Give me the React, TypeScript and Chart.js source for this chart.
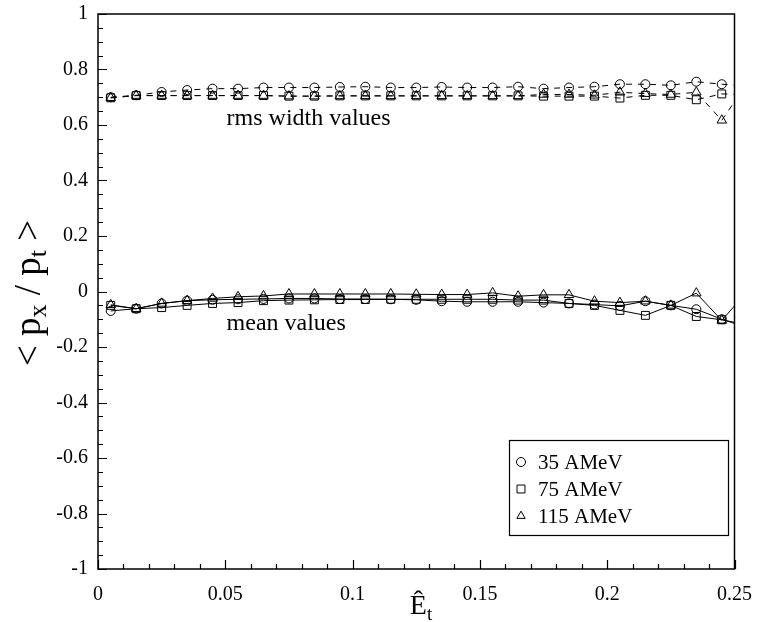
import React, { useEffect, useRef } from "react";
import { Chart, registerables } from "chart.js";

Chart.register(...registerables);

const xValues = [0.005, 0.015, 0.025, 0.035, 0.045, 0.055, 0.065, 0.075, 0.085, 0.095, 0.105, 0.115, 0.125, 0.135, 0.145, 0.155, 0.165, 0.175, 0.185, 0.195, 0.205, 0.215, 0.225, 0.235, 0.245, 0.255];

const rms35 = [0.700, 0.707, 0.719, 0.726, 0.731, 0.731, 0.735, 0.735, 0.735, 0.737, 0.738, 0.735, 0.735, 0.737, 0.735, 0.735, 0.738, 0.731, 0.735, 0.738, 0.747, 0.747, 0.743, 0.756, 0.747, 0.74];
const rms75 = [0.698, 0.706, 0.706, 0.706, 0.706, 0.706, 0.706, 0.704, 0.704, 0.705, 0.705, 0.705, 0.705, 0.705, 0.705, 0.705, 0.705, 0.704, 0.704, 0.704, 0.697, 0.707, 0.707, 0.691, 0.712, 0.71];
const rms115 = [0.698, 0.706, 0.706, 0.706, 0.706, 0.706, 0.706, 0.704, 0.704, 0.705, 0.705, 0.705, 0.705, 0.705, 0.705, 0.705, 0.705, 0.71, 0.71, 0.707, 0.718, 0.713, 0.71, 0.718, 0.617, 0.75];

const mean35 = [-0.07, -0.062, -0.043, -0.033, -0.03, -0.028, -0.027, -0.025, -0.025, -0.027, -0.027, -0.028, -0.03, -0.035, -0.037, -0.037, -0.037, -0.04, -0.043, -0.047, -0.052, -0.035, -0.05, -0.064, -0.1, -0.13];
const mean75 = [-0.05, -0.062, -0.058, -0.05, -0.043, -0.04, -0.033, -0.031, -0.03, -0.029, -0.029, -0.028, -0.028, -0.028, -0.028, -0.028, -0.031, -0.031, -0.043, -0.05, -0.068, -0.086, -0.05, -0.09, -0.102, -0.12];
const mean115 = [-0.048, -0.062, -0.043, -0.033, -0.025, -0.019, -0.016, -0.009, -0.009, -0.009, -0.009, -0.009, -0.01, -0.011, -0.011, -0.005, -0.017, -0.012, -0.012, -0.035, -0.04, -0.035, -0.05, -0.006, -0.104, 0.0];

const seriesLabels = ["35 AMeV", "75 AMeV", "115 AMeV"];
const pointStyles = ["circle", "rect", "triangle"];
const pointSizes = [4.5, 5.6, 5.5];

const xTickLabels = ["0", "0.05", "0.1", "0.15", "0.2", "0.25"];
const yTickLabels = ["-1", "-0.8", "-0.6", "-0.4", "-0.2", "0", "0.2", "0.4", "0.6", "0.8", "1"];

const annotations = [
  { text: "rms width values", x: 0.0505, y: 0.6 },
  { text: "mean values", x: 0.0505, y: -0.137 },
];

const SERIF = "'Liberation Serif', 'Times New Roman', serif";

function toPoints(ys: number[]) {
  return xValues.map((x, i) => ({ x, y: ys[i] }));
}

function drawMarker(ctx: CanvasRenderingContext2D, style: string, x: number, y: number, r: number) {
  ctx.beginPath();
  if (style === "circle") {
    ctx.arc(x, y, r, 0, Math.PI * 2);
  } else if (style === "rect") {
    const s = r * Math.SQRT1_2;
    ctx.rect(x - s, y - s, 2 * s, 2 * s);
  } else {
    const h = r;
    ctx.moveTo(x, y - h);
    ctx.lineTo(x + h * 0.866, y + h * 0.5);
    ctx.lineTo(x - h * 0.866, y + h * 0.5);
    ctx.closePath();
  }
  ctx.stroke();
}

const decorPlugin = {
  id: "decor",
  afterDraw(chart: any) {
    const { ctx, chartArea: a, scales } = chart;
    const xs = scales.x;
    const ys = scales.y;
    ctx.save();
    ctx.strokeStyle = "#000";
    ctx.fillStyle = "#000";

    // frame
    ctx.lineWidth = 1.5;
    ctx.strokeRect(a.left, a.top, a.right - a.left, a.bottom - a.top);

    // inward ticks
    ctx.lineWidth = 1.2;
    ctx.beginPath();
    for (let i = 0; i <= 40; i++) {
      const v = -1 + i * 0.05;
      const py = Math.round(ys.getPixelForValue(v)) + 0.5;
      const len = i % 4 === 0 ? 9 : 5;
      ctx.moveTo(a.left, py);
      ctx.lineTo(a.left + len, py);
    }
    for (let i = 0; i <= 25; i++) {
      const v = i * 0.01;
      const px = Math.round(xs.getPixelForValue(v)) + 0.5;
      const len = i % 5 === 0 ? 9 : 5;
      ctx.moveTo(px, a.bottom);
      ctx.lineTo(px, a.bottom - len);
    }
    ctx.stroke();

    // annotations
    ctx.font = `24px ${SERIF}`;
    ctx.textAlign = "left";
    ctx.textBaseline = "alphabetic";
    for (const an of annotations) {
      ctx.fillText(an.text, xs.getPixelForValue(an.x), ys.getPixelForValue(an.y));
    }

    // legend
    const lx = 509, ly = 440, lw = 219, lh = 95;
    ctx.fillStyle = "#fff";
    ctx.fillRect(lx, ly, lw, lh);
    ctx.fillStyle = "#000";
    ctx.lineWidth = 1.2;
    ctx.strokeRect(lx + 0.5, ly + 0.5, lw, lh);
    ctx.font = `21px ${SERIF}`;
    ctx.textBaseline = "middle";
    seriesLabels.forEach((lab, i) => {
      const cy = ly + 22 + i * 27;
      ctx.lineWidth = 1;
      drawMarker(ctx, pointStyles[i], lx + 12, cy, i === 2 ? 4.8 : pointSizes[i]);
      ctx.fillText(lab, lx + 29, cy + 1);
    });

    // y axis title: < p_x / p_t >
    ctx.save();
    ctx.translate(30, 293);
    ctx.rotate(-Math.PI / 2);
    const big = `37px ${SERIF}`;
    const small = `26px ${SERIF}`;
    const parts: [string, string, number][] = [
      ["< p", big, 0],
      ["x", small, 9],
      [" / p", big, 0],
      ["t", small, 9],
      [" >", big, 0],
    ];
    let total = 0;
    for (const [t, f] of parts) {
      ctx.font = f;
      total += ctx.measureText(t).width;
    }
    let cx = -total / 2;
    ctx.textAlign = "left";
    ctx.textBaseline = "middle";
    for (const [t, f, dy] of parts) {
      ctx.font = f;
      ctx.fillText(t, cx, dy);
      cx += ctx.measureText(t).width;
    }
    ctx.restore();

    // x axis title: Ê_t
    ctx.textAlign = "left";
    ctx.textBaseline = "alphabetic";
    ctx.font = `28px ${SERIF}`;
    const ew = ctx.measureText("Ê").width;
    ctx.font = `19px ${SERIF}`;
    const tw = ctx.measureText("t").width;
    const sx = 421 - (ew + tw) / 2;
    ctx.font = `28px ${SERIF}`;
    ctx.fillText("Ê", sx, 614);
    ctx.font = `19px ${SERIF}`;
    ctx.fillText("t", sx + ew, 620);

    ctx.restore();
  },
};

export default function App() {
  const ref = useRef<HTMLCanvasElement | null>(null);

  useEffect(() => {
    const canvas = ref.current;
    if (!canvas) return;
    const rmsSets = [rms35, rms75, rms115];
    const meanSets = [mean35, mean75, mean115];
    const datasets: any[] = [];
    rmsSets.forEach((ys, i) => {
      datasets.push({
        label: seriesLabels[i] + " rms",
        data: toPoints(ys),
        showLine: true,
        borderColor: "#000",
        borderWidth: 1,
        borderDash: [6, 6],
        pointStyle: pointStyles[i],
        pointRadius: pointSizes[i],
        pointBorderColor: "#000",
        pointBorderWidth: 1,
        pointBackgroundColor: "rgba(0,0,0,0)",
        tension: 0,
      });
    });
    meanSets.forEach((ys, i) => {
      datasets.push({
        label: seriesLabels[i],
        data: toPoints(ys),
        showLine: true,
        borderColor: "#000",
        borderWidth: 1,
        pointStyle: pointStyles[i],
        pointRadius: pointSizes[i],
        pointBorderColor: "#000",
        pointBorderWidth: 1,
        pointBackgroundColor: "rgba(0,0,0,0)",
        tension: 0,
      });
    });

    const chart = new Chart(canvas, {
      type: "scatter",
      data: { datasets },
      plugins: [decorPlugin],
      options: {
        animation: false,
        responsive: false,
        devicePixelRatio: 1,
        layout: { padding: { top: 1, right: 20, left: 0, bottom: 0 } },
        plugins: {
          legend: { display: false },
          tooltip: { enabled: false },
          title: { display: false },
        },
        scales: {
          x: {
            type: "linear",
            min: 0,
            max: 0.25,
            grid: { display: false },
            border: { display: false },
            ticks: {
              stepSize: 0.05,
              padding: 6,
              color: "#000",
              font: { family: SERIF, size: 20 },
              maxRotation: 0,
              autoSkip: false,
              callback: (v: any) => {
                const idx = Math.round(Number(v) / 0.05);
                return xTickLabels[idx] ?? "";
              },
            },
            afterFit: (s: any) => {
              s.height = 53;
            },
          },
          y: {
            type: "linear",
            min: -1,
            max: 1,
            grid: { display: false },
            border: { display: false },
            ticks: {
              stepSize: 0.2,
              padding: 2,
              color: "#000",
              font: { family: SERIF, size: 20 },
              autoSkip: false,
              callback: (v: any) => {
                const idx = Math.round((Number(v) + 1) / 0.2);
                return yTickLabels[idx] ?? "";
              },
            },
            afterFit: (s: any) => {
              s.width = 98;
            },
          },
        },
      },
    });
    return () => chart.destroy();
  }, []);

  return (
    <div style={{ position: "absolute", left: 0, top: 0, width: 758, height: 622, background: "#fff" }}>
      <canvas ref={ref} width={758} height={622} style={{ display: "block" }} />
    </div>
  );
}
